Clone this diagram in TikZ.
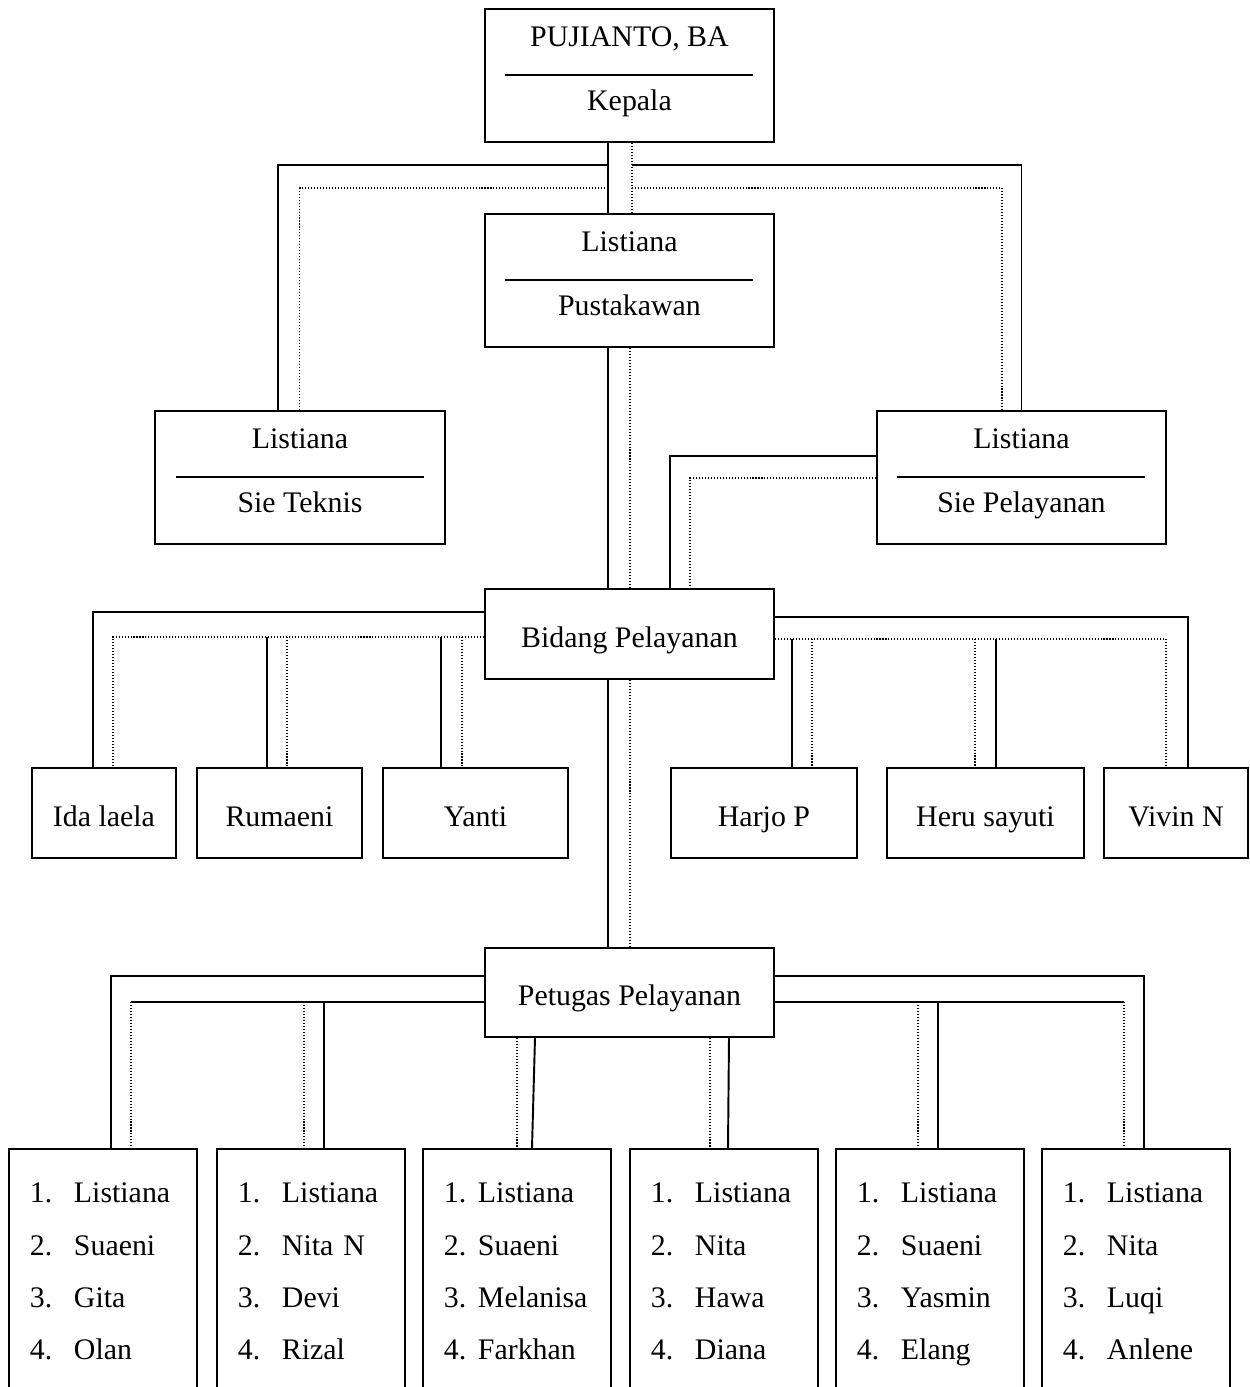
\documentclass[tikz,border=0pt]{standalone}
\usepackage{fontspec}
\setmainfont{Liberation Serif}
\newlength\upx
\setlength\upx{0.02cm}
\tikzset{
	kotak/.style={draw, line width=1.1pt, inner sep=0pt, anchor=north west, font=\fontsize{17pt}{17pt}\selectfont},
	jabatan/.style={kotak, align=center, minimum width=289\upx, text height=102\upx, text depth=31\upx},
	seksi/.style={kotak, minimum height=90\upx, text height=59\upx, text depth=31\upx},
	daftar/.style={kotak, align=left, inner xsep=21\upx, text width=146\upx, text height=54\upx, text depth=200\upx, font=\fontsize{17pt}{52.3\upx}\selectfont},
	garis/.style={line width=1.1pt},
	titik/.style={line width=0.6pt, dash pattern=on 0.6pt off 1.1pt}
}
\newcommand{\jab}[2]{#1\\\rule{248\upx}{1.1pt}\\[5\upx]#2}
\newcommand{\no}[2]{\makebox[#1\upx][l]{#2}}

\begin{document}
\begin{tikzpicture}[x=1\upx, y=-1\upx]
			\useasboundingbox (0,0) rectangle (1249,1387);
			\clip (0,0) rectangle (1249,1387);
			
			% kotak atas
			\node[jabatan] (kepala) at (484,8) {\jab{PUJIANTO, BA}{Kepala}};
			\node[jabatan] (pustaka) at (484,213) {\jab{Listiana}{Pustakawan}};
			\node[jabatan, minimum width=290\upx] (teknis) at (154,410) {\jab{Listiana}{Sie Teknis}};
			\node[jabatan] (pelayanan) at (876,410) {\jab{Listiana}{Sie Pelayanan}};
			
			% bidang
			\node[seksi, minimum width=289\upx] (bidang) at (484,588) {Bidang Pelayanan};
			\node[seksi, minimum width=144\upx] (ida) at (31,767) {Ida laela};
			\node[seksi, minimum width=165\upx] (rumaeni) at (196,767) {Rumaeni};
			\node[seksi, minimum width=185\upx] (yanti) at (382,767) {Yanti};
			\node[seksi, minimum width=186\upx] (harjo) at (670,767) {Harjo P};
			\node[seksi, minimum width=197\upx] (heru) at (886,767) {Heru sayuti};
			\node[seksi, minimum width=144\upx] (vivin) at (1103,767) {Vivin N};
			
			% petugas
			\node[seksi, minimum width=289\upx, minimum height=89\upx, text height=58\upx] (petugas) at (484,947) {Petugas Pelayanan};
			\node[daftar] (grup1) at (8,1148) {\no{44}{1.}Listiana\\\no{44}{2.}Suaeni\\\no{44}{3.}Gita\\\no{44}{4.}Olan};
			\node[daftar] (grup2) at (216,1148) {\no{44}{1.}Listiana\\\no{44}{2.}Nita N\\\no{44}{3.}Devi\\\no{44}{4.}Rizal};
			\node[daftar] (grup3) at (422,1148) {\no{34}{1.}Listiana\\\no{34}{2.}Suaeni\\\no{34}{3.}Melanisa\\\no{34}{4.}Farkhan};
			\node[daftar] (grup4) at (629,1148) {\no{44}{1.}Listiana\\\no{44}{2.}Nita\\\no{44}{3.}Hawa\\\no{44}{4.}Diana};
			\node[daftar] (grup5) at (835,1148) {\no{44}{1.}Listiana\\\no{44}{2.}Suaeni\\\no{44}{3.}Yasmin\\\no{44}{4.}Elang};
			\node[daftar] (grup6) at (1041,1148) {\no{44}{1.}Listiana\\\no{44}{2.}Nita\\\no{44}{3.}Luqi\\\no{44}{4.}Anlene};
			
			% kepala ke pustakawan dan sie
			\draw[garis] (kepala.south -| 608,0) -- (pustaka.north -| 608,0);
			\draw[titik] (kepala.south -| 632,0) -- (pustaka.north -| 632,0);
			\draw[garis] (608,165) -| (teknis.north -| 278,0);
			\draw[titik] (605,188) -| (teknis.north);
			\draw[garis] (632,165) -| (pelayanan.north);
			\draw[titik] (632,188) -| (pelayanan.north -| 1002,0);
			
			% ke bidang
			\draw[garis] (pustaka.south -| 608,0) -- (bidang.north -| 608,0);
			\draw[titik] (pustaka.south -| 630,0) -- (bidang.north -| 630,0);
			\draw[garis] (pelayanan.west |- 0,456) -| (bidang.north -| 670,0);
			\draw[titik] (pelayanan.west |- 0,478) -| (bidang.north -| 690,0);
			
			% bidang ke staf
			\draw[garis] (bidang.west |- 0,612) -| (ida.north -| 93,0);
			\draw[titik] (bidang.west |- 0,637) -| (ida.north -| 113,0);
			\draw[garis] (267,637) -- (rumaeni.north -| 267,0);
			\draw[titik] (287,637) -- (rumaeni.north -| 287,0);
			\draw[garis] (441,637) -- (yanti.north -| 441,0);
			\draw[titik] (462,637) -- (yanti.north -| 462,0);
			\draw[garis] (bidang.east |- 0,617) -| (vivin.north -| 1188,0);
			\draw[titik] (bidang.east |- 0,639) -| (vivin.north -| 1166,0);
			\draw[garis] (792,639) -- (harjo.north -| 792,0);
			\draw[titik] (812,639) -- (harjo.north -| 812,0);
			\draw[titik] (975,639) -- (heru.north -| 975,0);
			\draw[garis] (996,639) -- (heru.north -| 996,0);
			
			% bidang ke petugas
			\draw[garis] (bidang.south -| 608,0) -- (petugas.north -| 608,0);
			\draw[titik] (bidang.south -| 630,0) -- (petugas.north -| 630,0);
			
			% petugas ke grup
			\draw[garis] (petugas.west |- 0,976) -| (grup1.north -| 111,0);
			\draw[garis] (petugas.west |- 0,1002) -- (131,1002);
			\draw[titik] (131,1002) -- (grup1.north -| 131,0);
			\draw[titik] (304,1002) -- (grup2.north -| 304,0);
			\draw[garis] (324,1002) -- (grup2.north -| 324,0);
			\draw[titik] (petugas.south -| 517,0) -- (grup3.north -| 517,0);
			\draw[garis] (petugas.south -| 535,0) -- (grup3.north -| 532,0);
			\draw[titik] (petugas.south -| 710,0) -- (grup4.north -| 710,0);
			\draw[garis] (petugas.south -| 729,0) -- (grup4.north -| 728,0);
			\draw[titik] (918,1002) -- (grup5.north -| 918,0);
			\draw[garis] (938,1002) -- (grup5.north -| 938,0);
			\draw[garis] (petugas.east |- 0,1002) -- (1124,1002);
			\draw[titik] (1124,1002) -- (grup6.north -| 1124,0);
			\draw[garis] (petugas.east |- 0,976) -| (grup6.north -| 1144,0);
			
\end{tikzpicture}
\end{document}
